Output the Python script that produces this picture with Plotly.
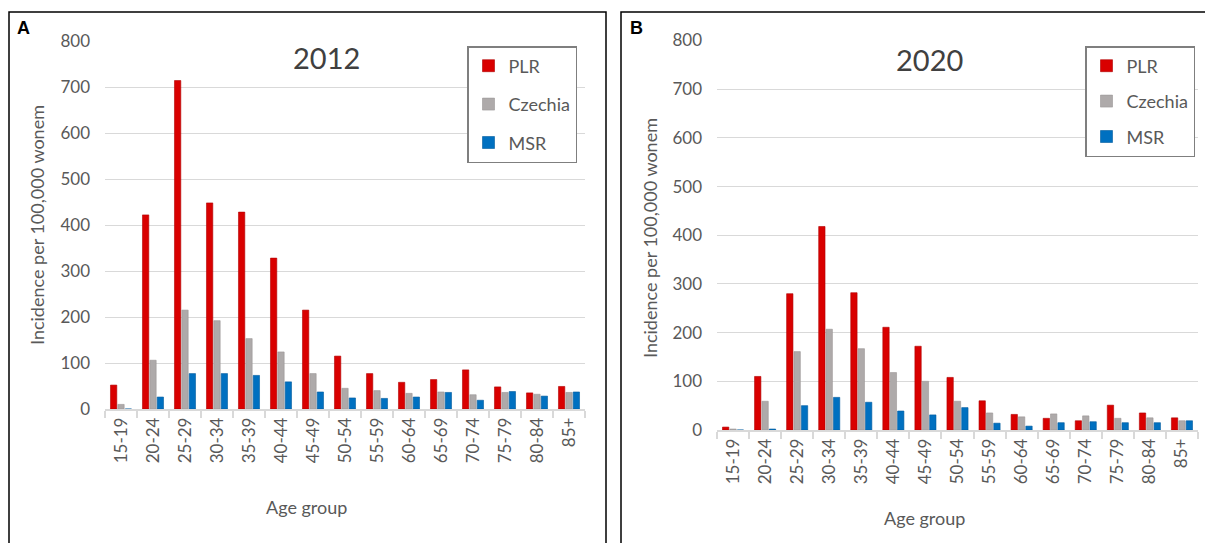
import plotly.graph_objects as go

W, H = 1205, 543

age_groups = ["15-19", "20-24", "25-29", "30-34", "35-39", "40-44", "45-49", "50-54",
              "55-59", "60-64", "65-69", "70-74", "75-79", "80-84", "85+"]

plr_2012 = [52, 422, 714, 448, 428, 328, 215, 115, 77, 58, 64, 85, 48, 35, 49]
cz_2012 = [10, 106, 215, 192, 153, 124, 77, 45, 40, 34, 37, 31, 36, 32, 36]
msr_2012 = [0, 26, 77, 77, 73, 59, 37, 24, 23, 26, 36, 19, 38, 28, 37]

plr_2020 = [6, 110, 280, 418, 282, 211, 172, 108, 60, 32, 24, 19, 51, 35, 25]
cz_2020 = [2, 59, 161, 207, 167, 118, 100, 59, 35, 27, 33, 29, 24, 25, 19]
msr_2020 = [0, 2, 50, 67, 57, 39, 31, 46, 14, 8, 15, 17, 15, 15, 19]

series_names = ["PLR", "Czechia", "MSR"]
colors = ["#D90000", "#AEAAAA", "#0070C0"]
edge = ["#B00000", "#9A9696", "#005A9E"]

FONT = "Lato"
GREY_TXT = "#595959"
GRID = "#D9D9D9"

fig = go.Figure()

panels = [
    ("x", "y", "legend", [plr_2012, cz_2012, msr_2012], "a"),
    ("x2", "y2", "legend2", [plr_2020, cz_2020, msr_2020], "b"),
]
for xa, ya, leg, vals, tag in panels:
    for name, v, c, e in zip(series_names, vals, colors, edge):
        fig.add_trace(go.Bar(
            x=age_groups, y=v, name=name, xaxis=xa, yaxis=ya, legend=leg,
            legendgroup=tag + name,
            marker=dict(color=c, line=dict(color=e, width=0.6)),
        ))

def px_x(p):
    return p / W

def px_y(p):
    return 1 - p / H

xaxis_common = dict(
    type="category", tickangle=-90, ticks="outside", tickson="boundaries",
    ticklen=7, tickcolor=GRID, tickwidth=1.5, showline=True, linecolor=GRID,
    linewidth=1.5, showgrid=False, automargin=False,
    tickfont=dict(family=FONT, size=17, color=GREY_TXT),
)
yaxis_common = dict(
    range=[0, 800], dtick=100, showgrid=True, gridcolor=GRID, gridwidth=1,
    zeroline=False, showline=False, ticks="", ticklabelstandoff=14, automargin=False,
    tickfont=dict(family=FONT, size=17, color=GREY_TXT),
)

fig.update_layout(
    width=W, height=H,
    margin=dict(l=0, r=0, t=0, b=0, pad=0, autoexpand=False),
    paper_bgcolor="white", plot_bgcolor="white",
    barmode="group", bargap=0.31, bargroupgap=0.14,
    font=dict(family=FONT, color=GREY_TXT),
    xaxis=dict(domain=[px_x(105), px_x(585)], anchor="y", **xaxis_common),
    yaxis=dict(domain=[px_y(409), px_y(41)], anchor="x", **yaxis_common),
    xaxis2=dict(domain=[px_x(717), px_x(1198)], anchor="y2", **xaxis_common),
    yaxis2=dict(domain=[px_y(430), px_y(40.5)], anchor="x2", **yaxis_common),
    legend=dict(x=px_x(577), y=px_y(46), xanchor="right", yanchor="top",
                bordercolor="#7F7F7F", borderwidth=1.5, bgcolor="white",
                tracegroupgap=12, font=dict(family=FONT, size=18, color=GREY_TXT)),
    legend2=dict(x=px_x(1195), y=px_y(46), xanchor="right", yanchor="top",
                 bordercolor="#7F7F7F", borderwidth=1.5, bgcolor="white",
                 tracegroupgap=9, font=dict(family=FONT, size=18, color=GREY_TXT)),
)

# panel frames
for x0, x1 in [(9, 606), (621, 1215)]:
    fig.add_shape(type="rect", xref="paper", yref="paper",
                  x0=px_x(x0), x1=px_x(x1), y0=-0.02, y1=px_y(12),
                  line=dict(color="black", width=1.5), fillcolor="rgba(0,0,0,0)")

annots = [
    # panel letters
    dict(text="<b>A</b>", x=px_x(23), y=px_y(28), font=dict(family="Liberation Sans", size=18, color="black")),
    dict(text="<b>B</b>", x=px_x(636), y=px_y(28), font=dict(family="Liberation Sans", size=18, color="black")),
    # titles
    dict(text="2012", x=px_x(326), y=px_y(58), font=dict(family=FONT, size=29, color="#404040")),
    dict(text="2020", x=px_x(929), y=px_y(60), font=dict(family=FONT, size=29, color="#404040")),
    # axis titles
    dict(text="Age group", x=px_x(306), y=px_y(507), font=dict(family=FONT, size=18, color=GREY_TXT)),
    dict(text="Age group", x=px_x(924), y=px_y(518), font=dict(family=FONT, size=18, color=GREY_TXT)),
    dict(text="Incidence per 100,000 wonem", x=px_x(37), y=px_y(225), textangle=-90,
         font=dict(family=FONT, size=18, color=GREY_TXT)),
    dict(text="Incidence per 100,000 wonem", x=px_x(650), y=px_y(238), textangle=-90,
         font=dict(family=FONT, size=18, color=GREY_TXT)),
]
for a in annots:
    fig.add_annotation(xref="paper", yref="paper", showarrow=False,
                       xanchor="center", yanchor="middle", **a)

fig.write_html(
    "out.html",
    config={"displayModeBar": False},
    post_script="document.body.style.margin='0';document.body.style.overflow='hidden';",
)
